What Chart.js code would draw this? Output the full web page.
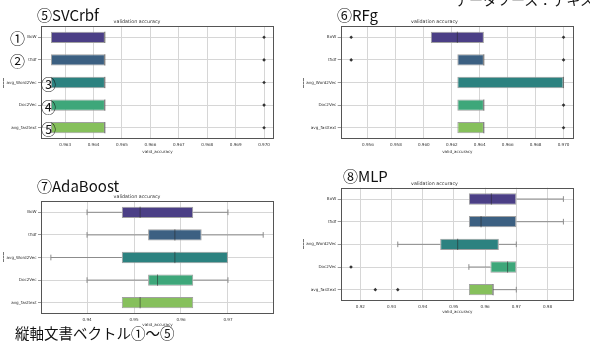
<!DOCTYPE html>
<html>
<head>
<meta charset="utf-8">
<script src="https://cdn.jsdelivr.net/npm/chart.js@4/dist/chart.umd.min.js"></script>
<style>
  html, body { margin:0; padding:0; background:#fff; }
  body { width:590px; height:347px; position:relative; overflow:hidden; }
  .panel { position:absolute; }
  .lbl { position:absolute; font-family:"Noto Sans CJK JP", sans-serif; color:#111; white-space:nowrap; line-height:1; }
  .dash { position:absolute; width:0; height:10px; border-left:1px dashed #777; }
</style>
</head>
<body>
<div class="panel" style="left:0;top:0"><canvas id="c1" width="295" height="175"></canvas></div>
<div class="panel" style="left:295px;top:0"><canvas id="c2" width="295" height="175"></canvas></div>
<div class="panel" style="left:0;top:175px"><canvas id="c3" width="295" height="172"></canvas></div>
<div class="panel" style="left:295px;top:175px"><canvas id="c4" width="295" height="172"></canvas></div>

<div class="lbl" style="left:455px;top:-8px;font-size:14px">データソース：テキスト</div>
<div class="lbl" style="left:37px;top:7px;font-size:15px">⑤SVCrbf</div>
<div class="lbl" style="left:337px;top:7px;font-size:15px">⑥RFg</div>
<div class="lbl" style="left:37px;top:178px;font-size:15px">⑦AdaBoost</div>
<div class="lbl" style="left:343px;top:168px;font-size:15px">⑧MLP</div>
<div class="lbl" style="left:10px;top:30px;font-size:15px">①</div>
<div class="lbl" style="left:10px;top:53px;font-size:15px">②</div>
<div class="lbl" style="left:41px;top:76px;font-size:15px">③</div>
<div class="lbl" style="left:41px;top:99px;font-size:15px">④</div>
<div class="lbl" style="left:41px;top:121px;font-size:15px">⑤</div>
<div class="lbl" style="left:15px;top:326px;font-size:14.5px">縦軸文書ベクトル①～⑤</div>
<div class="dash" style="left:3px;top:78px"></div>
<div class="dash" style="left:303px;top:78px"></div>
<div class="dash" style="left:3px;top:252px"></div>
<div class="dash" style="left:303px;top:239px"></div>

<script>
// ---------- data ----------
const categories = ['BoW', 'tfidf', 'avg_Word2Vec', 'Doc2Vec', 'avg_fasttext'];
const boxColors = ['#4b3f86', '#3c6082', '#2c8280', '#3ea77a', '#86c05c'];

// ⑤ SVCrbf
const svc_q1  = [0.9625, 0.9625, 0.9625, 0.9625, 0.9625];
const svc_q3  = [0.9644, 0.9644, 0.9644, 0.9644, 0.9644];
const svc_med = [0.9644, 0.9644, 0.9644, 0.9644, 0.9644];
const svc_lo  = [0.9625, 0.9625, 0.9625, 0.9625, 0.9625];
const svc_hi  = [0.9644, 0.9644, 0.9644, 0.9644, 0.9644];
const svc_out = [[0.970], [0.970], [0.970], [0.970], [0.970]];
const svc_ticks = [0.963, 0.964, 0.965, 0.966, 0.967, 0.968, 0.969, 0.970];

// ⑥ RFg
const rf_q1  = [0.9605, 0.9624, 0.9624, 0.9624, 0.9624];
const rf_q3  = [0.9643, 0.9643, 0.9700, 0.9643, 0.9643];
const rf_med = [0.9624, 0.9643, 0.9700, 0.9643, 0.9643];
const rf_lo  = [0.9605, 0.9624, 0.9624, 0.9624, 0.9624];
const rf_hi  = [0.9643, 0.9643, 0.9700, 0.9643, 0.9643];
const rf_out = [[0.9548, 0.970], [0.9548, 0.970], [], [0.970], [0.970]];
const rf_ticks = [0.956, 0.958, 0.960, 0.962, 0.964, 0.966, 0.968, 0.970];

// ⑦ AdaBoost
const ada_q1  = [0.9474, 0.9530, 0.9474, 0.9530, 0.9474];
const ada_q3  = [0.9626, 0.9644, 0.9700, 0.9626, 0.9626];
const ada_med = [0.9513, 0.9587, 0.9587, 0.9550, 0.9513];
const ada_lo  = [0.9400, 0.9400, 0.9323, 0.9400, 0.9474];
const ada_hi  = [0.9700, 0.9775, 0.9700, 0.9700, 0.9626];
const ada_out = [[], [], [], [], []];
const ada_ticks = [0.94, 0.95, 0.96, 0.97];

// ⑧ MLP
const mlp_q1  = [0.9548, 0.9548, 0.9456, 0.9617, 0.9548];
const mlp_q3  = [0.9700, 0.9700, 0.9644, 0.9700, 0.9626];
const mlp_med = [0.9620, 0.9587, 0.9512, 0.9672, 0.9626];
const mlp_lo  = [0.9548, 0.9548, 0.9320, 0.9548, 0.9548];
const mlp_hi  = [0.9851, 0.9851, 0.9700, 0.9700, 0.9700];
const mlp_out = [[], [], [], [0.9170], [0.9248, 0.9320]];
const mlp_ticks = [0.92, 0.93, 0.94, 0.95, 0.96, 0.97, 0.98];

// ---------- drawing ----------
Chart.defaults.font.family = 'DejaVu Sans';
Chart.defaults.color = '#333';

function boxPlugin(s) {
  return {
    id: 'boxExtras',
    beforeDatasetsDraw(chart) {
      const ctx = chart.ctx, x = chart.scales.x, meta = chart.getDatasetMeta(0);
      ctx.save();
      ctx.strokeStyle = '#8c8c8c';
      ctx.lineWidth = 1;
      meta.data.forEach((bar, i) => {
        const y = bar.y, cap = bar.height / 4;
        const pl = x.getPixelForValue(s.lo[i]), p1 = x.getPixelForValue(s.q1[i]);
        const p3 = x.getPixelForValue(s.q3[i]), ph = x.getPixelForValue(s.hi[i]);
        ctx.beginPath();
        if (s.lo[i] < s.q1[i]) {
          ctx.moveTo(pl, y); ctx.lineTo(p1, y);
          ctx.moveTo(pl, y - cap); ctx.lineTo(pl, y + cap);
        }
        if (s.hi[i] > s.q3[i]) {
          ctx.moveTo(p3, y); ctx.lineTo(ph, y);
          ctx.moveTo(ph, y - cap); ctx.lineTo(ph, y + cap);
        }
        ctx.stroke();
      });
      ctx.restore();
    },
    afterDatasetsDraw(chart) {
      const ctx = chart.ctx, x = chart.scales.x, meta = chart.getDatasetMeta(0);
      ctx.save();
      ctx.strokeStyle = 'rgba(40,40,40,0.55)';
      ctx.lineWidth = 1;
      meta.data.forEach((bar, i) => {
        const pm = x.getPixelForValue(s.med[i]);
        ctx.beginPath();
        ctx.moveTo(pm, bar.y - bar.height / 2);
        ctx.lineTo(pm, bar.y + bar.height / 2);
        ctx.stroke();
      });
      ctx.restore();
    },
    afterDraw(chart) {
      const a = chart.chartArea, ctx = chart.ctx;
      ctx.save();
      ctx.strokeStyle = '#555';
      ctx.lineWidth = 1;
      ctx.strokeRect(Math.round(a.left) + 0.5, Math.round(a.top) + 0.5,
                     Math.round(a.right - a.left) - 1, Math.round(a.bottom - a.top) - 1);
      ctx.restore();
    }
  };
}

function makeChart(id, s, L) {
  const outPts = [];
  s.out.forEach((arr, i) => arr.forEach(v => outPts.push({ x: v, y: categories[i] })));
  return new Chart(document.getElementById(id), {
    type: 'bar',
    data: {
      labels: categories,
      datasets: [
        {
          data: s.q1.map((v, i) => [v, s.q3[i]]),
          backgroundColor: boxColors,
          borderColor: '#a0a0a0',
          borderWidth: 1,
          borderSkipped: false,
          barPercentage: 0.5,
          categoryPercentage: 1
        },
        {
          type: 'scatter',
          data: outPts,
          pointStyle: 'rectRot',
          radius: 1.8,
          backgroundColor: '#333',
          borderColor: '#333',
          borderWidth: 0
        }
      ]
    },
    options: {
      indexAxis: 'y',
      responsive: false,
      animation: false,
      events: [],
      layout: { padding: { left: 0, right: L.right, top: 0, bottom: 0 } },
      plugins: {
        legend: { display: false },
        tooltip: { enabled: false },
        title: {
          display: true,
          text: 'validation accuracy',
          color: '#333',
          font: { size: 4.8, weight: 'normal', lineHeight: 1.2 },
          padding: { top: L.titleTop, bottom: 1.5 }
        }
      },
      scales: {
        x: {
          type: 'linear',
          position: 'bottom',
          min: s.min, max: s.max,
          afterBuildTicks: sc => { sc.ticks = s.ticks.map(v => ({ value: v })); },
          afterFit: sc => { sc.height = L.xh; },
          ticks: {
            font: { size: 4.1 }, color: '#333', padding: 3, maxRotation: 0,
            autoSkip: false,
            callback: v => Number(v).toFixed(s.dec)
          },
          grid: { color: '#d6d6d6', lineWidth: 1, drawTicks: false },
          border: { display: false },
          title: {
            display: true, text: 'valid_accuracy', color: '#333',
            font: { size: 4.1, lineHeight: 1.2 },
            padding: { top: 0, bottom: L.xtb }
          }
        },
        y: {
          type: 'category',
          position: 'left',
          offset: true,
          afterFit: sc => { sc.width = L.yw; },
          ticks: { font: { size: 4.1 }, color: '#333', padding: 1.5 },
          grid: { color: '#d6d6d6', lineWidth: 1, offset: false, drawTicks: true, tickLength: 3, tickColor: '#999' },
          border: { display: false }
        }
      }
    },
    plugins: [boxPlugin(s)]
  });
}

makeChart('c1',
  { q1: svc_q1, q3: svc_q3, med: svc_med, lo: svc_lo, hi: svc_hi, out: svc_out,
    ticks: svc_ticks, min: 0.96215, max: 0.97035, dec: 3 },
  { right: 21, yw: 41, titleTop: 18.74, xh: 36, xtb: 20.5 });

makeChart('c2',
  { q1: rf_q1, q3: rf_q3, med: rf_med, lo: rf_lo, hi: rf_hi, out: rf_out,
    ticks: rf_ticks, min: 0.95405, max: 0.97075, dec: 3 },
  { right: 16, yw: 45.7, titleTop: 18.74, xh: 36, xtb: 20.5 });

makeChart('c3',
  { q1: ada_q1, q3: ada_q3, med: ada_med, lo: ada_lo, hi: ada_hi, out: ada_out,
    ticks: ada_ticks, min: 0.9302, max: 0.9798, dec: 2 },
  { right: 21, yw: 41, titleTop: 18.74, xh: 33, xtb: 19.5 });

makeChart('c4',
  { q1: mlp_q1, q3: mlp_q3, med: mlp_med, lo: mlp_lo, hi: mlp_hi, out: mlp_out,
    ticks: mlp_ticks, min: 0.9137, max: 0.9885, dec: 2 },
  { right: 16, yw: 45.7, titleTop: 5.44, xh: 46, xtb: 32.8 });
</script>
</body>
</html>
